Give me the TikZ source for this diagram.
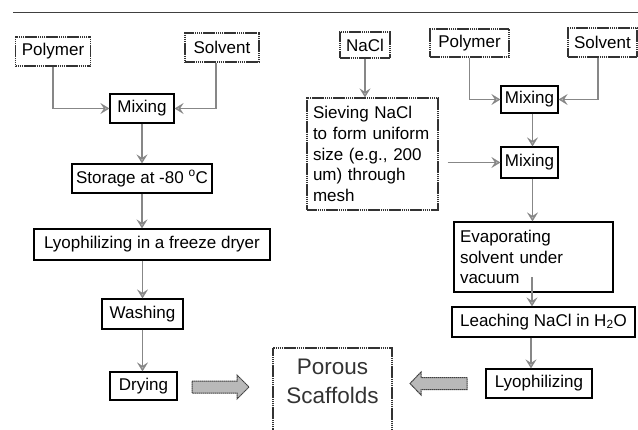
\documentclass[tikz,border=0pt]{standalone}
\usepackage{fontspec}
\setmainfont{Liberation Sans}
\usetikzlibrary{arrows.meta}
\definecolor{linegray}{RGB}{135,135,135}
\definecolor{headfill}{RGB}{205,205,205}
\begin{document}
\begin{tikzpicture}[x=1pt,y=-1pt,
  every node/.style={font=\fontsize{17}{20.7}\selectfont, inner sep=0pt},
  proc/.style={draw=black, line width=1.2pt, fill=white},
  src/.style={draw=black!80, dash pattern=on 1.6pt off 0.5pt, line width=1.2pt},
  conn/.style={draw=linegray, line width=1.3pt, -{Stealth[length=9pt,width=11pt,inset=3.5pt,fill=headfill]}},
  fat/.style={draw=black!75, dash pattern=on 1.5pt off 0.5pt, line width=1pt, fill=gray!55}
]
\useasboundingbox (0,0) rectangle (638,429);
\clip (0,0) rectangle (638,429);

% top rule
\draw[black!75, line width=0.9pt] (13,12.7) -- (638,12.7);

% left process
\node[src, minimum width=75pt, minimum height=29pt] (polyL) at (53,51.5) {Polymer};
\node[src, minimum width=74pt, minimum height=29pt] (solvL) at (222,47.5) {Solvent};
\node[proc, minimum width=64pt, minimum height=29pt] (mixL) at (142,108.5) {Mixing};
\node[proc, minimum width=140pt, minimum height=29pt] (storage) at (142,178.5) {Storage at -80 \textsuperscript{o}C};
\node[proc, minimum width=236pt, minimum height=31pt] (lyoL) at (152,244.5) {Lyophilizing in a freeze dryer};
\node[proc, minimum width=81pt, minimum height=30pt] (wash) at (142.5,314) {Washing};
\node[proc, minimum width=67pt, minimum height=28pt] (dry) at (143.5,386) {Drying};

% right process
\node[src, minimum width=50pt, minimum height=26pt] (nacl) at (365,45) {NaCl};
\node[src, minimum width=79pt, minimum height=28pt] (polyR) at (469.5,43) {Polymer};
\node[src, minimum width=69pt, minimum height=29pt] (solvR) at (602.5,42.5) {Solvent};
\node[proc, minimum width=57pt, minimum height=27pt] (mixR1) at (529.5,99.5) {Mixing};
\node[src, text width=119pt, align=left, inner xsep=6pt, minimum height=112pt] (sieve) at (372.5,154) {Sieving NaCl\\to form uniform\\size (e.g., 200\\um) through\\mesh};
\node[proc, minimum width=57pt, minimum height=31pt] (mixR2) at (529.5,162.5) {Mixing};
\node[proc, text width=147pt, align=left, inner xsep=6pt, minimum height=70pt] (evap) at (533.5,257) {Evaporating\\solvent under\\vacuum};
\node[proc, minimum width=183pt, minimum height=30pt] (leach) at (543.5,322) {Leaching NaCl in H\textsubscript{2}O};
\node[proc, minimum width=106pt, minimum height=29pt] (lyoR) at (539,383.5) {Lyophilizing};

% result
\draw[src] (273,440) -- (273,348) -- (392,348) -- (392,440);
\node[font=\fontsize{22.5}{29}\selectfont, text=black!80, align=center] (porous) at (332.5,381) {Porous\\Scaffolds};

% fat arrows
\draw[fat] (192,381) -- (237,381) -- (237,375) -- (249,387) -- (237,399) -- (237,393) -- (192,393) -- cycle;
\draw[fat] (467,377.5) -- (421,377.5) -- (421,372) -- (410,383.5) -- (421,395) -- (421,389.5) -- (467,389.5) -- cycle;

% connectors left
\draw[conn] (polyL.south) |- (mixL.west);
\draw[conn] ([xshift=-6pt]solvL.south) |- (mixL.east);
\draw[conn] (mixL.south) -- (storage.north);
\draw[conn] (storage.south) -- (storage.south |- lyoL.north);
\draw[conn] (wash.north |- lyoL.south) -- (wash.north);
\draw[conn] (wash.south) -- (wash.south |- dry.north);

% connectors right
\draw[conn] (nacl.south) -- (nacl.south |- sieve.north);
\draw[conn] (polyR.south) |- (mixR1.west);
\draw[conn] ([xshift=-4.5pt]solvR.south) |- (mixR1.east);
\draw[conn] ([xshift=3pt]mixR1.south) -- ([xshift=3pt]mixR2.north);
\draw[conn] ([xshift=9pt]sieve.east |- mixR2.west) -- (mixR2.west);
\draw[conn] ([xshift=3pt]mixR2.south) -- ([xshift=3pt]mixR2.south |- evap.north);
\coordinate (evapout) at (532,277);
\draw[conn] (evapout) -- (evapout |- leach.north);
\draw[conn] ([xshift=-8pt]lyoR.north |- leach.south) -- ([xshift=-8pt]lyoR.north);
\end{tikzpicture}
\end{document}
